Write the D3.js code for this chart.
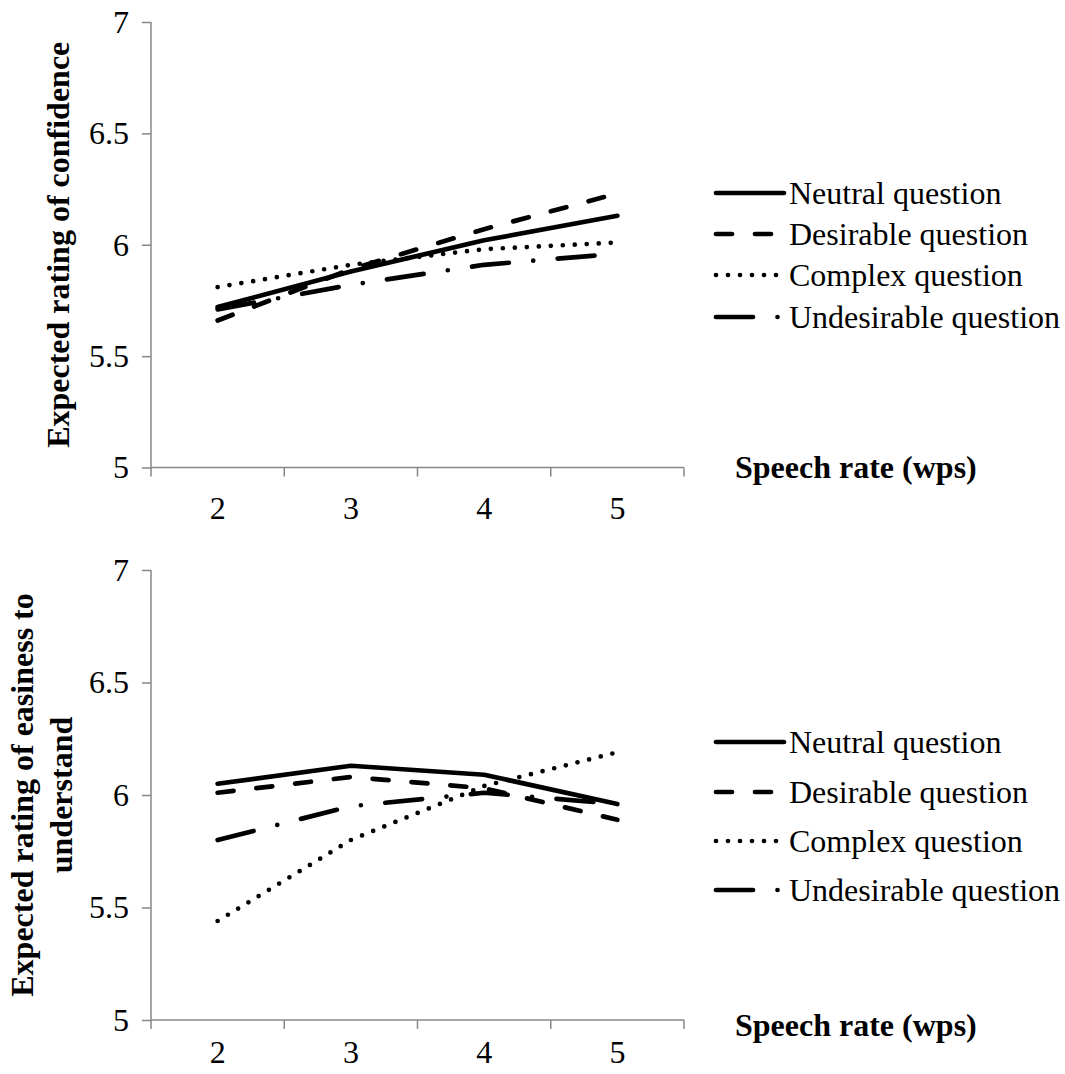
<!DOCTYPE html>
<html>
<head>
<meta charset="utf-8">
<script src="https://cdn.jsdelivr.net/npm/d3@7"></script>
<style>
  body { margin: 0; background: #fff; }
</style>
</head>
<body>
<svg id="chart" width="1065" height="1074"></svg>
<script>
// Speech rate categories (words per second)
const speechRates = ["2", "3", "4", "5"];
const seriesNames = ["Neutral question", "Desirable question", "Complex question", "Undesirable question"];

// Expected rating of confidence
const confidenceNeutral     = [5.72, 5.88, 6.02, 6.13];
const confidenceDesirable   = [5.66, 5.89, 6.07, 6.23];
const confidenceComplex     = [5.81, 5.91, 5.98, 6.01];
const confidenceUndesirable = [5.71, 5.82, 5.91, 5.96];

// Expected rating of easiness to understand
const easinessNeutral     = [6.05, 6.13, 6.09, 5.96];
const easinessDesirable   = [6.01, 6.08, 6.03, 5.89];
const easinessComplex     = [5.44, 5.80, 6.04, 6.19];
const easinessUndesirable = [5.80, 5.95, 6.01, 5.96];

const yTicks = [5, 5.5, 6, 6.5, 7];

// Line patterns for the four question types
const lineStyles = [
  { dash: null },
  { dash: "16,23" },
  { dash: "0,12" },
  { dash: "37,24.5,0,24.5" }
];

const svg = d3.select("#chart");
const FONT = "'Liberation Serif', 'Times New Roman', serif";
const FS = 32;
const AXIS_COLOR = "#878787";
const LINE_W = 4.7;

function drawPanel(cfg) {
  const g = svg.append("g");
  const x = d3.scaleBand().domain(speechRates).range([cfg.left, cfg.right]).padding(0);
  const y = d3.scaleLinear().domain([5, 7]).range([cfg.bottom, cfg.top]);

  // y axis
  const yAxis = g.append("g")
    .attr("transform", `translate(${cfg.left},0)`)
    .call(d3.axisLeft(y).tickValues(yTicks).tickSize(9).tickPadding(13).tickFormat(d3.format("")));
  yAxis.attr("font-family", FONT);
  yAxis.selectAll("path, line").attr("stroke", AXIS_COLOR).attr("stroke-width", 1.5);
  yAxis.select(".domain").attr("d", `M0,${cfg.top}V${cfg.bottom}`);
  yAxis.selectAll("text").attr("font-size", FS).attr("font-family", FONT).attr("fill", "#000");

  // x axis: labels centred in categories, ticks on category boundaries
  const xAxis = g.append("g")
    .attr("transform", `translate(0,${cfg.bottom})`)
    .call(d3.axisBottom(x).tickSize(0).tickPadding(cfg.xLabelPad));
  xAxis.attr("font-family", FONT);
  xAxis.select(".domain").attr("stroke", AXIS_COLOR).attr("stroke-width", 1.5)
    .attr("d", `M${cfg.left},0H${cfg.right}`);
  xAxis.selectAll("text").attr("font-size", FS).attr("font-family", FONT).attr("fill", "#000");
  const boundaries = speechRates.map(d => x(d)).concat([x(speechRates[speechRates.length - 1]) + x.bandwidth()]);
  xAxis.selectAll("line.boundary").data(boundaries).join("line")
    .attr("class", "boundary")
    .attr("x1", d => d).attr("x2", d => d)
    .attr("y1", 0).attr("y2", 9)
    .attr("stroke", AXIS_COLOR).attr("stroke-width", 1.5);

  // series lines
  const line = d3.line()
    .x((d, i) => x(speechRates[i]) + x.bandwidth() / 2)
    .y(d => y(d));
  cfg.series.forEach((vals, k) => {
    g.append("path")
      .datum(vals)
      .attr("d", line)
      .attr("fill", "none")
      .attr("stroke", "#000")
      .attr("stroke-width", LINE_W)
      .attr("stroke-linecap", "round")
      .attr("stroke-linejoin", "round")
      .attr("stroke-dasharray", lineStyles[k].dash);
  });

  // legend
  const lg = g.append("g");
  seriesNames.forEach((name, k) => {
    const yy = cfg.legendY[k];
    lg.append("line")
      .attr("x1", 716).attr("x2", 784)
      .attr("y1", yy).attr("y2", yy)
      .attr("stroke", "#000")
      .attr("stroke-width", LINE_W)
      .attr("stroke-linecap", "round")
      .attr("stroke-dasharray", lineStyles[k].dash);
    lg.append("text")
      .attr("x", 789).attr("y", yy).attr("dy", "0.33em")
      .attr("font-family", FONT)
      .attr("font-size", FS)
      .text(name);
  });

  // x axis title
  g.append("text")
    .attr("x", 735).attr("y", cfg.xTitleY).attr("dy", "0.33em")
    .attr("font-family", FONT)
    .attr("font-size", FS).attr("font-weight", "bold")
    .text("Speech rate (wps)");

  // y axis title (rotated, possibly two lines)
  const cy = (cfg.top + cfg.bottom) / 2;
  cfg.yTitle.forEach((txt, i) => {
    g.append("text")
      .attr("transform", `translate(${cfg.yTitleX[i]},${cy}) rotate(-90)`)
      .attr("text-anchor", "middle")
      .attr("font-family", FONT)
      .attr("font-size", FS).attr("font-weight", "bold")
      .text(txt);
  });
}

drawPanel({
  left: 151, right: 684, top: 22, bottom: 467.5,
  xLabelPad: 29,
  series: [confidenceNeutral, confidenceDesirable, confidenceComplex, confidenceUndesirable],
  legendY: [193, 234, 275, 317],
  xTitleY: 467,
  yTitle: ["Expected rating of confidence"],
  yTitleX: [69]
});

drawPanel({
  left: 151, right: 684, top: 570, bottom: 1020,
  xLabelPad: 20,
  series: [easinessNeutral, easinessDesirable, easinessComplex, easinessUndesirable],
  legendY: [742, 792, 841, 890],
  xTitleY: 1025,
  yTitle: ["Expected rating of easiness to", "understand"],
  yTitleX: [33, 72]
});
</script>
</body>
</html>
